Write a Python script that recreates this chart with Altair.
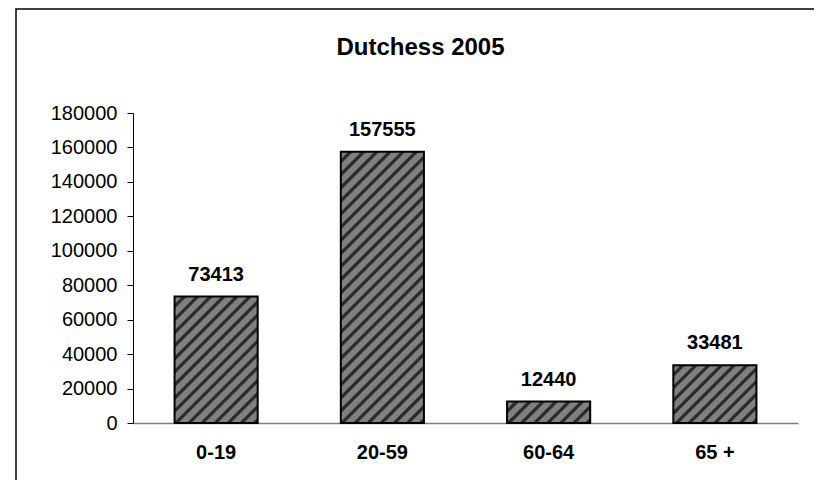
import altair as alt
import pandas as pd

# ---- data ----
categories = ["0-19", "20-59", "60-64", "65 +"]
values = [73413, 157555, 12440, 33481]
y_ticks = [0, 20000, 40000, 60000, 80000, 100000, 120000, 140000, 160000, 180000]
title_text = "Dutchess 2005"

# ---- layout / style ----
PLOT_W, PLOT_H = 665, 310
Y_MAX = 180000
PAD_INNER, PAD_OUTER = 0.5, 0.25
FONT = "Liberation Sans, Arial, Helvetica, sans-serif"
GRAY, DARK = "#808080", "#2a2a2a"
STRIPE_PERIOD = 13.0  # horizontal period of the hatch, px

df = pd.DataFrame({"cat": categories, "val": values})

step = PLOT_W / (len(categories) - PAD_INNER + 2 * PAD_OUTER)
bar_w = step * (1 - PAD_INNER)


def hatch(h_px, w_px=bar_w):
    """Linear gradient (bbox units) drawing 45-degree '/' stripes."""
    s = w_px + h_px
    k = s / (w_px ** 2 + h_px ** 2)
    n = max(1, int(round(s / STRIPE_PERIOD)))
    stops = []
    for i in range(n):
        a = i / n
        stops += [
            {"offset": a, "color": GRAY},
            {"offset": a + 0.52 / n, "color": GRAY},
            {"offset": a + 0.64 / n, "color": DARK},
            {"offset": a + 0.86 / n, "color": DARK},
            {"offset": min(1.0, a + 1.0 / n), "color": GRAY},
        ]
    return {"gradient": "linear", "x1": 0, "y1": 0,
            "x2": w_px * k, "y2": h_px * k, "stops": stops}


x_enc = alt.X(
    "cat:N",
    sort=categories,
    scale=alt.Scale(domain=categories, paddingInner=PAD_INNER, paddingOuter=PAD_OUTER),
    axis=alt.Axis(
        title=None, labelAngle=0, ticks=False, tickSize=0, labelPadding=19,
        labelFont=FONT, labelFontSize=20, labelFontWeight="bold", labelColor="black",
        domainColor="#808080", domainWidth=1.5,
    ),
)
y_enc = alt.Y(
    "val:Q",
    scale=alt.Scale(domain=[0, Y_MAX], nice=False),
    axis=alt.Axis(
        title=None, values=y_ticks, format="d", grid=False,
        labelOverlap=False, labelBound=False, labelFlush=False,
        tickSize=6, tickColor="black", domainColor="black", domainWidth=1,
        labelPadding=10, labelFont=FONT, labelFontSize=20, labelColor="black",
    ),
)

base = alt.Chart(df)

bars = []
for c, v in zip(categories, values):
    h_px = v / Y_MAX * PLOT_H
    bars.append(
        base.transform_filter(alt.datum.cat == c)
        .mark_bar(fill=hatch(h_px), stroke="black", strokeWidth=2)
        .encode(x=x_enc, y=y_enc)
    )

labels = base.mark_text(
    dy=-16, baseline="alphabetic", font=FONT, fontSize=20, fontWeight="bold", color="black"
).encode(x=x_enc, y=y_enc, text="val:Q")

frame_df = pd.DataFrame({"t": [title_text]})
frame = alt.Chart(frame_df).mark_rect(fill=None, stroke="black", strokeWidth=1.5).encode(
    x=alt.value(-117), x2=alt.value(760), y=alt.value(-104), y2=alt.value(420)
)
title = alt.Chart(frame_df).mark_text(
    font=FONT, fontSize=24, fontWeight="bold", color="black", baseline="alphabetic", align="center"
).encode(x=alt.value(287.5), y=alt.value(-58), text="t:N")

chart = (
    alt.layer(frame, *bars, labels, title)
    .properties(
        width=PLOT_W, height=PLOT_H,
        autosize=alt.AutoSizeParams(type="none"),
        padding={"left": 125, "top": 105, "right": 16, "bottom": 57},
        background="white",
    )
    .configure_view(stroke=None)
    .configure_axis(labelOverlap=False)
)

chart.save("out.html", embed_options={"renderer": "svg", "actions": False})
